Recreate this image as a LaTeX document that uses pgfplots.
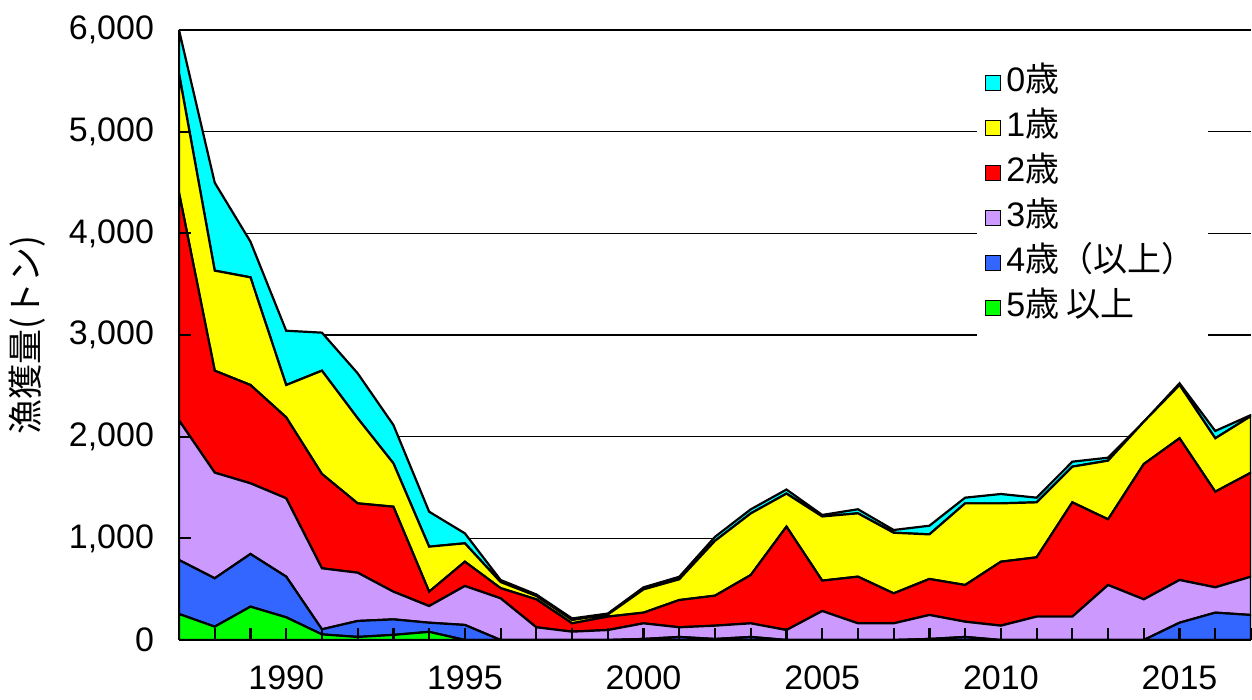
\documentclass[border=0pt]{standalone}
\usepackage{fontspec}
\setmainfont{Liberation Sans}
\newfontfamily\cjk{Noto Sans CJK JP}
\usepackage{pgfplots}
\usepackage{pgfplotstable}
\pgfplotsset{compat=1.18}
\definecolor{ccyan}{HTML}{00FFFF}
\definecolor{cyel}{HTML}{FFFF00}
\definecolor{cred}{HTML}{FF0000}
\definecolor{cpur}{HTML}{CC99FF}
\definecolor{cblue}{HTML}{3366FF}
\definecolor{cgreen}{HTML}{00FF00}
\pgfplotstableread{
year g b p r y c
1987 256 531 1373 2240 1170 430
1988 131 476 1039 1003 984 865
1989 328 518 695 967 1059 351
1990 223 400 771 796 318 534
1991 55 50 600 928 1016 374
1992 30 157 475 682 837 442
1993 50 153 272 836 427 377
1994 80 90 164 141 443 344
1995 0 148 383 239 181 98
1996 0 0 410 100 60 20
1997 0 0 125 275 33 15
1998 0 0 82 82 33 15
1999 0 0 98 132 20 10
2000 0 10 154 105 229 20
2001 0 30 95 268 204 25
2002 0 10 131 295 539 40
2003 0 30 134 475 606 40
2004 0 0 98 1017 325 40
2005 0 0 285 299 631 15
2006 0 0 164 459 623 40
2007 0 0 164 295 596 27
2008 0 10 236 354 439 85
2009 0 30 150 361 803 56
2010 0 0 141 629 574 92
2011 0 0 230 583 541 46
2012 0 0 230 1124 351 49
2013 0 0 541 646 577 29
2014 0 0 400 1331 416 0
2015 0 170 420 1394 524 17
2016 0 269 249 941 525 72
2017 0 246 377 1023 557 10
}\datatable
\pgfplotsset{
  base/.style={
    at={(0,0)}, anchor=south west,
    width=536pt, height=305pt, scale only axis,
    xmin=1987, xmax=2017, ymin=0, ymax=6000,
    ytick={0,1000,...,6000},
    scaled y ticks=false,
  }
}
\begin{document}
\begin{tikzpicture}
\begin{axis}[
  base,
  xtick={1990,1995,2000,2005,2010,2015},
  stack plots=y,
  axis x line*=bottom, axis y line*=left,
  axis line style={draw=none},
  ymajorgrids,
  grid style={black, line width=0.8pt},
  xticklabels={1990,1995,2000,2005,2010,2015},
  major tick length=0pt,
  yticklabel style={/pgf/number format/.cd, 1000 sep={,}, assume math mode=true, /tikz/.cd, font=\fontsize{17}{20}\selectfont, xshift=-9pt},
  xticklabel style={font=\fontsize{17}{20}\selectfont, yshift=-9.3pt},
  every axis y label/.style={at={(axis description cs:-0.142,0.5)}, rotate=90, anchor=center, font=\fontsize{17.5}{20}\selectfont},
  ylabel={\cjk 漁獲量(トン)},
  legend style={draw=none, fill=white, at={(0.744,0.964)}, anchor=north west,
    font=\fontsize{17}{20}\selectfont,
    nodes={text height=13pt, text depth=4.5pt, inner sep=2.5pt},
    inner sep=4pt, row sep=0pt},
  legend cell align=left,
  legend image code/.code={\draw[#1, draw=black, line width=0.6pt] (0pt,-3.8pt) rectangle (7.6pt,3.8pt);},
  reverse legend,
]
\addplot[fill=cgreen, draw=black, line width=1.1pt] table[x=year, y=g]{\datatable} \closedcycle;
\addlegendentry{5{\cjk 歳 以上}}
\addplot[fill=cblue, draw=black, line width=1.1pt] table[x=year, y=b]{\datatable} \closedcycle;
\addlegendentry{4{\cjk 歳（以上）}}
\addplot[fill=cpur, draw=black, line width=1.1pt] table[x=year, y=p]{\datatable} \closedcycle;
\addlegendentry{3{\cjk 歳}}
\addplot[fill=cred, draw=black, line width=1.1pt] table[x=year, y=r]{\datatable} \closedcycle;
\addlegendentry{2{\cjk 歳}}
\addplot[fill=cyel, draw=black, line width=1.1pt] table[x=year, y=y]{\datatable} \closedcycle;
\addlegendentry{1{\cjk 歳}}
\addplot[fill=ccyan, draw=black, line width=1.1pt] table[x=year, y=c]{\datatable} \closedcycle;
\addlegendentry{0{\cjk 歳}}
\end{axis}
\begin{axis}[
  base,
  xtick={1987,1988,...,2017},
  axis x line*=bottom, axis y line*=left,
  axis line style={black, line width=1.1pt, -},
  xticklabels={}, yticklabels={},
  tick align=inside,
  major tick length=6pt,
  tick style={black, line width=1.1pt},
]
\addplot[draw=none, forget plot] coordinates {(1987,0) (2017,6000)};
\end{axis}
\pgfresetboundingbox
\useasboundingbox (-89.5pt,-30pt) rectangle (536.5pt,320pt);
\end{tikzpicture}
\end{document}
